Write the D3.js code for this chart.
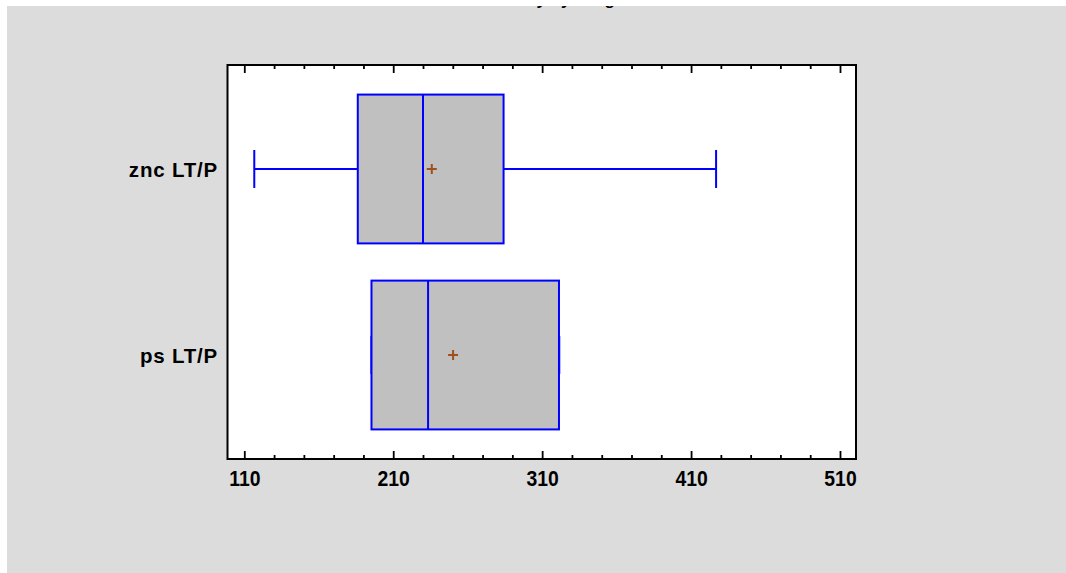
<!DOCTYPE html>
<html>
<head>
<meta charset="utf-8">
<script src="https://cdn.jsdelivr.net/npm/d3@7"></script>
<style>
  body { margin: 0; background: #ffffff; }
  svg { display: block; }
  text { font-family: "Liberation Sans", Arial, sans-serif; font-weight: bold; fill: #000; }
</style>
</head>
<body>
<div id="chart"></div>
<script>
// values
const categories = ["znc LT/P", "ps LT/P"];
const mins    = [116.7, 195.4];
const q1s     = [186.2, 195.4];
const medians = [230.0, 233.4];
const q3s     = [284.1, 321.3];
const maxs    = [426.8, 321.5];
const means   = [235.9, 250.2];
const tickValues = [110, 210, 310, 410, 510];
const minorTicks = [130, 150, 170, 190, 230, 250, 270, 290, 330, 350, 370, 390, 430, 450, 470, 490];

const W = 1066, H = 573;
const plot = {left: 227.5, right: 856, top: 65, bottom: 459};

const data = categories.map((c, i) => ({
  cat: c, min: mins[i], q1: q1s[i], med: medians[i], q3: q3s[i], max: maxs[i], mean: means[i]
}));

const svg = d3.select("#chart").append("svg")
    .attr("width", W)
    .attr("height", H);

// gray panel
svg.append("rect")
    .attr("x", 7).attr("y", 6)
    .attr("width", W - 7).attr("height", H - 6)
    .attr("fill", "#dcdcdc");

svg.append("clipPath").attr("id", "panel")
  .append("rect").attr("x", 7).attr("y", 6).attr("width", W - 7).attr("height", H - 6);

// title, mostly cut off at the top of the panel (as in the original)
svg.append("text")
    .attr("clip-path", "url(#panel)")
    .attr("x", 549).attr("y", 5)
    .attr("text-anchor", "middle")
    .style("font-size", "17px")
    .text("Toxicity by Drug");

const x = d3.scaleLinear()
    .domain([98.72, 520.75])
    .range([plot.left, plot.right]);

const y = d3.scalePoint()
    .domain(categories)
    .range([plot.top, plot.bottom])
    .padding(0.559);

const step = y.step();
const boxH = step * 0.8;
const capH = step * 0.102;

// plot background
svg.append("rect")
    .attr("x", plot.left).attr("y", plot.top)
    .attr("width", plot.right - plot.left).attr("height", plot.bottom - plot.top)
    .attr("fill", "#ffffff");

// axes (ticks point inward)
function styleAxis(g) {
  g.select(".domain").remove();
  g.selectAll(".tick line").attr("stroke", "#000").attr("stroke-width", 1.8);
}

svg.append("g")
    .attr("transform", `translate(0,${plot.bottom})`)
    .call(d3.axisBottom(x).tickValues(tickValues).tickSize(-8).tickPadding(11).tickFormat(d3.format("d")))
    .call(styleAxis)
    .call(g => g.selectAll(".tick text")
        .style("font-size", "22px")
        .style("font-family", "\"Liberation Sans\", Arial, sans-serif")
        .style("font-weight", "bold")
        .attr("transform", "scale(0.88,1)")
        .attr("fill", "#000"));

svg.append("g")
    .attr("transform", `translate(0,${plot.bottom})`)
    .call(d3.axisBottom(x).tickValues(minorTicks).tickSize(-4).tickFormat(""))
    .call(styleAxis);

svg.append("g")
    .attr("transform", `translate(0,${plot.top})`)
    .call(d3.axisTop(x).tickValues(tickValues).tickSize(-8).tickFormat(""))
    .call(styleAxis);

svg.append("g")
    .attr("transform", `translate(0,${plot.top})`)
    .call(d3.axisTop(x).tickValues(minorTicks).tickSize(-4).tickFormat(""))
    .call(styleAxis);

// category labels
svg.append("g")
  .selectAll("text")
  .data(categories)
  .join("text")
    .attr("x", 218)
    .attr("y", d => y(d) + 8)
    .attr("text-anchor", "end")
    .style("font-size", "20.5px")
    .style("letter-spacing", "0.8px")
    .text(d => d);

// boxes
const blue = "#0000ff";
const g = svg.append("g").selectAll("g")
  .data(data)
  .join("g");

// whiskers
g.append("line")
    .attr("x1", d => x(d.min)).attr("x2", d => x(d.q1))
    .attr("y1", d => y(d.cat)).attr("y2", d => y(d.cat))
    .attr("stroke", blue).attr("stroke-width", 2);
g.append("line")
    .attr("x1", d => x(d.q3)).attr("x2", d => x(d.max))
    .attr("y1", d => y(d.cat)).attr("y2", d => y(d.cat))
    .attr("stroke", blue).attr("stroke-width", 2);

// caps
g.append("line")
    .attr("x1", d => x(d.min)).attr("x2", d => x(d.min))
    .attr("y1", d => y(d.cat) - capH).attr("y2", d => y(d.cat) + capH)
    .attr("stroke", blue).attr("stroke-width", 2);
g.append("line")
    .attr("x1", d => x(d.max)).attr("x2", d => x(d.max))
    .attr("y1", d => y(d.cat) - capH).attr("y2", d => y(d.cat) + capH)
    .attr("stroke", blue).attr("stroke-width", 2);

// box
g.append("rect")
    .attr("x", d => x(d.q1))
    .attr("y", d => y(d.cat) - boxH / 2)
    .attr("width", d => x(d.q3) - x(d.q1))
    .attr("height", boxH)
    .attr("fill", "#c0c0c0")
    .attr("stroke", blue).attr("stroke-width", 2);

// median
g.append("line")
    .attr("x1", d => x(d.med)).attr("x2", d => x(d.med))
    .attr("y1", d => y(d.cat) - boxH / 2).attr("y2", d => y(d.cat) + boxH / 2)
    .attr("stroke", blue).attr("stroke-width", 2);

// mean marker
const brown = "#a0501e";
g.append("path")
    .attr("d", d => {
      const cx = x(d.mean), cy = y(d.cat);
      return `M${cx - 5},${cy}H${cx + 5}M${cx},${cy - 5}V${cy + 5}`;
    })
    .attr("stroke", brown).attr("stroke-width", 2).attr("fill", "none");

// frame
svg.append("rect")
    .attr("x", plot.left).attr("y", plot.top)
    .attr("width", plot.right - plot.left).attr("height", plot.bottom - plot.top)
    .attr("fill", "none")
    .attr("stroke", "#000").attr("stroke-width", 2);
</script>
</body>
</html>
